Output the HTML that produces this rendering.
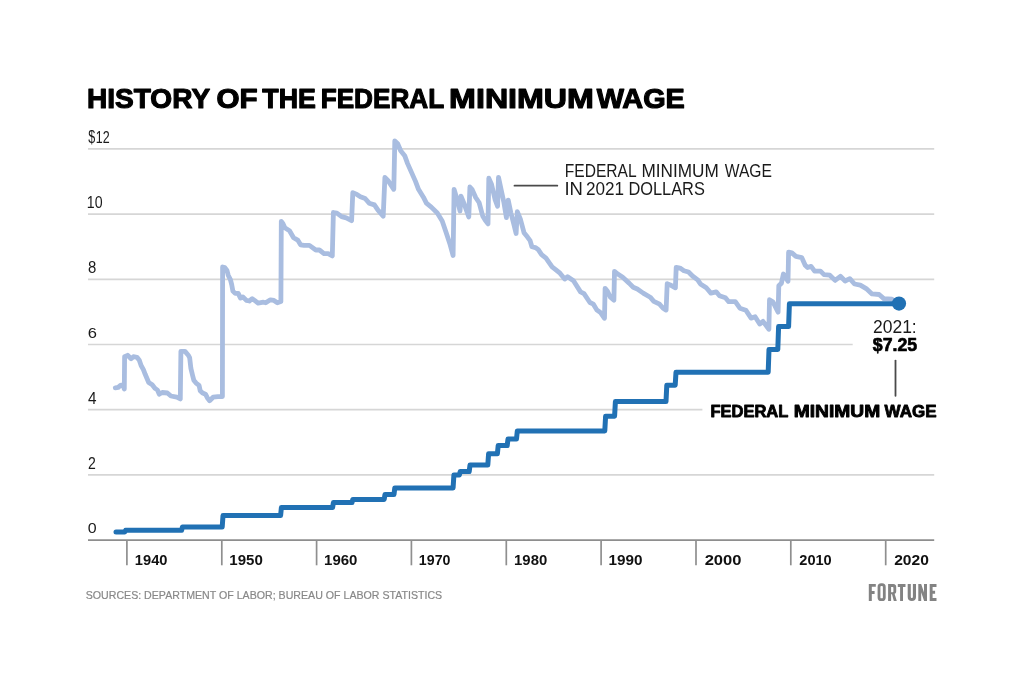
<!DOCTYPE html>
<html><head><meta charset="utf-8">
<style>
html,body{margin:0;padding:0;background:#fff;}
body{width:1024px;height:683px;overflow:hidden;}
svg{display:block;will-change:transform;}
text{font-family:"Liberation Sans",sans-serif;}
</style></head><body>
<svg width="1024" height="683" viewBox="0 0 1024 683">
<rect width="1024" height="683" fill="#fff"/>
<line x1="88" y1="148.9" x2="934.2" y2="148.9" stroke="#d6d6d6" stroke-width="1.7"/>
<line x1="88" y1="214.1" x2="934.2" y2="214.1" stroke="#d6d6d6" stroke-width="1.7"/>
<line x1="88" y1="279.3" x2="934.2" y2="279.3" stroke="#d6d6d6" stroke-width="1.7"/>
<line x1="88" y1="344.5" x2="852.7" y2="344.5" stroke="#d6d6d6" stroke-width="1.7"/>
<line x1="88" y1="409.7" x2="702.4" y2="409.7" stroke="#d6d6d6" stroke-width="1.7"/>
<line x1="88" y1="474.9" x2="934.2" y2="474.9" stroke="#d6d6d6" stroke-width="1.7"/>
<line x1="88" y1="540.2" x2="934.2" y2="540.2" stroke="#8e8e8e" stroke-width="1.8"/>
<line x1="126.9" y1="540" x2="126.9" y2="565.3" stroke="#8f8f8f" stroke-width="1.7"/>
<line x1="221.8" y1="540" x2="221.8" y2="565.3" stroke="#8f8f8f" stroke-width="1.7"/>
<line x1="316.6" y1="540" x2="316.6" y2="565.3" stroke="#8f8f8f" stroke-width="1.7"/>
<line x1="411.4" y1="540" x2="411.4" y2="565.3" stroke="#8f8f8f" stroke-width="1.7"/>
<line x1="506.3" y1="540" x2="506.3" y2="565.3" stroke="#8f8f8f" stroke-width="1.7"/>
<line x1="601.1" y1="540" x2="601.1" y2="565.3" stroke="#8f8f8f" stroke-width="1.7"/>
<line x1="696.0" y1="540" x2="696.0" y2="565.3" stroke="#8f8f8f" stroke-width="1.7"/>
<line x1="790.8" y1="540" x2="790.8" y2="565.3" stroke="#8f8f8f" stroke-width="1.7"/>
<line x1="885.7" y1="540" x2="885.7" y2="565.3" stroke="#8f8f8f" stroke-width="1.7"/>

<path d="M115.3 387.8 L118.2 387.4 L120.5 385.4 L122.9 384.8 L124.3 389.0 L124.6 356.7 L127.6 355.3 L131.1 358.8 L133.4 356.7 L137.0 357.3 L139.3 360.2 L141.1 365.5 L143.4 369.6 L145.2 374.3 L148.7 382.5 L152.2 384.8 L155.1 388.4 L157.5 390.1 L159.2 394.2 L162.2 392.5 L167.4 393.0 L170.9 396.0 L176.8 397.2 L180.3 398.9 L180.9 351.4 L185.0 351.4 L188.5 355.5 L189.7 357.9 L190.9 368.4 L192.6 375.5 L193.8 380.2 L196.1 383.1 L199.1 385.4 L200.2 390.7 L202.6 393.0 L205.5 394.2 L207.3 397.7 L209.6 400.7 L213.1 397.2 L217.8 396.6 L222.4 396.6 L222.6 267.0 L224.7 267.6 L227.0 270.5 L228.2 275.2 L230.5 279.9 L231.7 284.6 L232.9 291.1 L235.2 293.4 L238.2 293.4 L240.5 298.1 L242.9 296.9 L246.4 300.4 L249.3 301.0 L252.2 298.7 L254.6 300.4 L258.1 303.1 L263.4 302.2 L265.7 302.8 L270.4 299.8 L273.9 300.4 L277.4 302.8 L280.9 301.6 L281.3 221.3 L283.0 223.7 L284.8 227.8 L289.5 230.7 L293.6 237.7 L297.7 240.1 L300.6 244.8 L304.1 245.4 L309.4 245.4 L315.8 250.0 L319.4 250.0 L324.0 253.6 L328.2 253.6 L332.3 255.9 L333.4 212.5 L336.9 213.1 L341.6 216.6 L346.3 217.8 L351.6 220.7 L352.8 192.6 L356.9 194.4 L360.4 196.7 L365.1 198.5 L369.2 203.2 L374.4 204.9 L378.0 210.2 L383.2 216.1 L384.9 177.4 L387.9 180.4 L393.8 189.3 L394.8 140.9 L397.7 143.8 L400.7 150.8 L404.7 155.7 L407.6 163.6 L415.5 181.4 L418.5 189.3 L423.4 197.2 L426.4 203.1 L431.3 207.1 L437.3 213.0 L442.2 220.9 L446.2 232.8 L450.1 244.6 L453.1 255.5 L454.1 189.3 L457.0 199.2 L460.0 211.0 L461.0 196.2 L463.9 203.1 L468.8 217.0 L469.9 187.0 L472.2 189.6 L475.7 197.5 L479.2 202.8 L482.7 216.0 L485.3 220.4 L488.0 223.9 L488.8 178.2 L491.5 184.3 L495.0 199.3 L497.6 206.3 L498.5 177.3 L501.1 189.6 L503.8 201.9 L506.4 217.7 L508.2 200.1 L510.8 212.5 L513.5 223.0 L516.1 233.5 L517.3 211.6 L520.5 219.5 L524.0 232.7 L527.5 237.1 L530.1 240.6 L531.9 246.7 L535.4 247.6 L538.1 249.4 L541.6 254.6 L546.0 258.1 L552.1 266.9 L555.6 269.6 L560.0 273.2 L564.7 279.0 L567.6 276.7 L573.5 280.8 L580.5 291.9 L584.0 293.7 L589.9 302.5 L593.4 304.2 L596.9 310.1 L600.4 312.4 L604.5 318.3 L605.1 288.4 L607.5 291.3 L610.4 297.2 L613.9 300.1 L614.5 271.4 L617.4 273.8 L622.7 277.3 L629.1 283.1 L633.2 287.2 L637.3 289.0 L643.2 293.1 L650.2 297.2 L653.8 301.3 L659.6 304.2 L663.1 308.3 L666.1 310.1 L667.2 283.7 L670.2 284.9 L675.4 287.8 L676.2 267.4 L680.0 268.1 L683.9 270.7 L688.5 272.0 L692.5 276.0 L697.7 279.9 L700.4 283.9 L706.3 287.8 L710.9 293.1 L716.2 291.8 L719.5 295.7 L725.4 297.7 L728.7 301.7 L735.3 301.7 L739.9 308.2 L745.8 310.2 L751.1 318.1 L755.1 316.8 L759.7 324.0 L763.0 321.4 L768.9 329.3 L769.5 299.7 L772.8 301.7 L778.1 312.2 L778.8 285.8 L781.4 283.2 L783.4 274.0 L788.0 281.2 L788.6 252.2 L791.9 252.9 L795.9 256.4 L801.7 257.6 L805.2 265.2 L807.6 267.5 L811.1 266.4 L814.6 271.1 L820.5 271.1 L824.0 274.6 L829.8 275.2 L835.1 280.4 L840.4 276.3 L845.1 281.0 L849.8 278.7 L854.5 284.0 L860.3 285.1 L866.2 288.6 L872.0 293.9 L879.1 294.5 L883.8 298.6 L892.0 299.2 L899.0 303.6" fill="none" stroke="#a9bde0" stroke-width="4.8" stroke-linejoin="round" stroke-linecap="round"/>
<path d="M116.0 532.0 L124.8 532.0 L125.6 530.3 L181.6 530.3 L182.4 527.1 L222.2 527.1 L223.0 515.6 L280.6 515.6 L281.4 507.5 L332.6 507.5 L333.4 502.6 L352.0 502.6 L352.8 499.4 L384.2 499.4 L385.0 494.5 L394.0 494.5 L394.8 487.9 L453.1 487.9 L453.9 474.9 L459.4 474.9 L460.2 471.6 L469.2 471.6 L470.0 465.1 L487.8 465.1 L488.6 453.7 L497.4 453.7 L498.2 445.6 L507.2 445.6 L508.0 439.0 L516.5 439.0 L517.3 430.9 L604.8 430.9 L605.6 416.2 L614.6 416.2 L615.4 401.6 L666.0 401.6 L666.8 385.2 L675.2 385.2 L676.0 372.2 L768.2 372.2 L769.0 349.4 L777.8 349.4 L778.6 326.6 L788.6 326.6 L789.4 303.8 L899.0 303.8" fill="none" stroke="#2171b4" stroke-width="5.0" stroke-linejoin="round" stroke-linecap="round"/>
<circle cx="899" cy="303.6" r="7.1" fill="#2171b4"/>
<line x1="514.5" y1="185.7" x2="557.3" y2="185.7" stroke-linecap="round" stroke="#4a4a4a" stroke-width="1.8"/>
<line x1="895.5" y1="360.6" x2="895.5" y2="395.8" stroke="#4a4a4a" stroke-width="1.8" stroke-linecap="round"/>
<text x="86.90" y="107.80" font-size="27.24" font-weight="bold" fill="#000" stroke="#000" stroke-width="1.10" stroke-linejoin="round" textLength="123.22" lengthAdjust="spacingAndGlyphs">HISTORY</text>
<text x="216.59" y="107.80" font-size="27.24" font-weight="bold" fill="#000" stroke="#000" stroke-width="1.10" stroke-linejoin="round" textLength="41.13" lengthAdjust="spacingAndGlyphs">OF</text>
<text x="262.36" y="107.80" font-size="27.24" font-weight="bold" fill="#000" stroke="#000" stroke-width="1.10" stroke-linejoin="round" textLength="53.60" lengthAdjust="spacingAndGlyphs">THE</text>
<text x="320.67" y="107.80" font-size="27.24" font-weight="bold" fill="#000" stroke="#000" stroke-width="1.10" stroke-linejoin="round" textLength="123.46" lengthAdjust="spacingAndGlyphs">FEDERAL</text>
<text x="449.14" y="107.80" font-size="27.24" font-weight="bold" fill="#000" stroke="#000" stroke-width="1.10" stroke-linejoin="round" textLength="144.81" lengthAdjust="spacingAndGlyphs">MINIMUM</text>
<text x="596.68" y="107.80" font-size="27.24" font-weight="bold" fill="#000" stroke="#000" stroke-width="1.10" stroke-linejoin="round" textLength="88.19" lengthAdjust="spacingAndGlyphs">WAGE</text>
<text x="88.21" y="143.27" font-size="19.02" font-weight="normal" fill="#1a1a1a" textLength="6.96" lengthAdjust="spacingAndGlyphs">$</text>
<text x="95.87" y="142.80" font-size="15.63" font-weight="normal" fill="#1a1a1a" textLength="13.90" lengthAdjust="spacingAndGlyphs">12</text>
<text x="86.85" y="207.52" font-size="16.43" font-weight="normal" fill="#1a1a1a" textLength="15.78" lengthAdjust="spacingAndGlyphs">10</text>
<text x="88.11" y="272.94" font-size="15.97" font-weight="normal" fill="#1a1a1a" textLength="8.30" lengthAdjust="spacingAndGlyphs">8</text>
<text x="87.77" y="338.24" font-size="15.49" font-weight="normal" fill="#1a1a1a" textLength="9.20" lengthAdjust="spacingAndGlyphs">6</text>
<text x="88.12" y="403.91" font-size="16.97" font-weight="normal" fill="#1a1a1a" textLength="8.52" lengthAdjust="spacingAndGlyphs">4</text>
<text x="87.88" y="468.56" font-size="16.48" font-weight="normal" fill="#1a1a1a" textLength="7.82" lengthAdjust="spacingAndGlyphs">2</text>
<text x="87.87" y="533.26" font-size="15.45" font-weight="normal" fill="#1a1a1a" textLength="8.88" lengthAdjust="spacingAndGlyphs">0</text>
<text x="564.83" y="177.40" font-size="17.88" font-weight="normal" fill="#1a1a1a" textLength="71.73" lengthAdjust="spacingAndGlyphs">FEDERAL</text>
<text x="641.45" y="177.40" font-size="17.88" font-weight="normal" fill="#1a1a1a" textLength="77.35" lengthAdjust="spacingAndGlyphs">MINIMUM</text>
<text x="724.74" y="177.40" font-size="17.88" font-weight="normal" fill="#1a1a1a" textLength="47.25" lengthAdjust="spacingAndGlyphs">WAGE</text>
<text x="564.41" y="194.61" font-size="17.89" font-weight="normal" fill="#1a1a1a" textLength="18.49" lengthAdjust="spacingAndGlyphs">IN</text>
<text x="585.99" y="194.60" font-size="17.89" font-weight="normal" fill="#1a1a1a" textLength="38.08" lengthAdjust="spacingAndGlyphs">2021</text>
<text x="628.39" y="194.60" font-size="17.88" font-weight="normal" fill="#1a1a1a" textLength="76.52" lengthAdjust="spacingAndGlyphs">DOLLARS</text>
<text x="872.94" y="333.34" font-size="17.75" font-weight="normal" fill="#1a1a1a" textLength="43.79" lengthAdjust="spacingAndGlyphs">2021:</text>
<text x="872.82" y="351.15" font-size="19.15" font-weight="bold" fill="#000" stroke="#000" stroke-width="0.70" stroke-linejoin="round" textLength="44.29" lengthAdjust="spacingAndGlyphs">$7.25</text>
<text x="710.41" y="416.73" font-size="17.26" font-weight="bold" fill="#000" stroke="#000" stroke-width="0.90" stroke-linejoin="round" textLength="77.95" lengthAdjust="spacingAndGlyphs">FEDERAL</text>
<text x="793.73" y="416.73" font-size="17.26" font-weight="bold" fill="#000" stroke="#000" stroke-width="0.90" stroke-linejoin="round" textLength="86.50" lengthAdjust="spacingAndGlyphs">MINIMUM</text>
<text x="884.58" y="416.73" font-size="17.26" font-weight="bold" fill="#000" stroke="#000" stroke-width="0.90" stroke-linejoin="round" textLength="51.95" lengthAdjust="spacingAndGlyphs">WAGE</text>
<text x="85.73" y="599.41" font-size="11.36" font-weight="normal" fill="#888888" stroke="#888888" stroke-width="0.20" stroke-linejoin="round" textLength="356.46" lengthAdjust="spacingAndGlyphs">SOURCES: DEPARTMENT OF LABOR; BUREAU OF LABOR STATISTICS</text>
<text x="134.83" y="564.52" font-size="15.13" font-weight="bold" fill="#111" textLength="32.68" lengthAdjust="spacingAndGlyphs">1940</text>
<text x="229.28" y="564.52" font-size="15.13" font-weight="bold" fill="#111" textLength="33.52" lengthAdjust="spacingAndGlyphs">1950</text>
<text x="324.07" y="564.52" font-size="15.13" font-weight="bold" fill="#111" textLength="33.35" lengthAdjust="spacingAndGlyphs">1960</text>
<text x="418.86" y="564.52" font-size="15.13" font-weight="bold" fill="#111" textLength="31.62" lengthAdjust="spacingAndGlyphs">1970</text>
<text x="514.09" y="564.52" font-size="15.13" font-weight="bold" fill="#111" textLength="33.14" lengthAdjust="spacingAndGlyphs">1980</text>
<text x="608.58" y="564.52" font-size="15.13" font-weight="bold" fill="#111" textLength="34.01" lengthAdjust="spacingAndGlyphs">1990</text>
<text x="704.66" y="564.52" font-size="15.44" font-weight="bold" fill="#111" textLength="36.81" lengthAdjust="spacingAndGlyphs">2000</text>
<text x="799.31" y="564.52" font-size="15.13" font-weight="bold" fill="#111" textLength="32.44" lengthAdjust="spacingAndGlyphs">2010</text>
<text x="894.13" y="564.52" font-size="15.50" font-weight="bold" fill="#111" textLength="34.70" lengthAdjust="spacingAndGlyphs">2020</text>
<g fill="#838383">
<path d="M868.8 583.9 H875.8 V586.8 H871.8 V590.9 H874.6 V593.9 H871.8 V600.9 H868.8 Z"/>
<rect x="879.0" y="584.7" width="5.3" height="15.0" rx="2.3" fill="none" stroke="#838383" stroke-width="2.8"/>
<path fill-rule="evenodd" d="M888.1 583.9 H893.2 C895.5 583.9 896.2 585.2 896.2 587 V591.2 C896.2 592.6 895.6 593.5 894.6 593.8 L896.8 600.9 H893.8 L892 594.3 H891.1 V600.9 H888.1 Z M891.1 587 H892.6 C893.2 587 893.4 587.3 893.4 587.8 V591.5 C893.4 592 893.2 592.3 892.6 592.3 H891.1 Z"/>
<path d="M897.8 584 H905.5 V587 H903 V600.9 H900.1 V587 H897.8 Z"/>
<path d="M907.7 584 H910.8 V596.8 C910.8 597.6 911.2 598 911.85 598 C912.5 598 912.9 597.6 912.9 596.8 V584 H916 V597 C916 599.6 914.5 601.1 911.85 601.1 C909.2 601.1 907.7 599.6 907.7 597 Z"/>
<path d="M918.3 584 H921.2 L924 592.5 V584 H927 V600.9 H924.1 L921.2 592.3 V600.9 H918.3 Z"/>
<path d="M929.7 584 H936.5 V587 H932.6 V590.8 H935.1 V593.7 H932.6 V598 H936.5 V600.9 H929.7 Z"/>
</g>
</svg>
</body></html>
